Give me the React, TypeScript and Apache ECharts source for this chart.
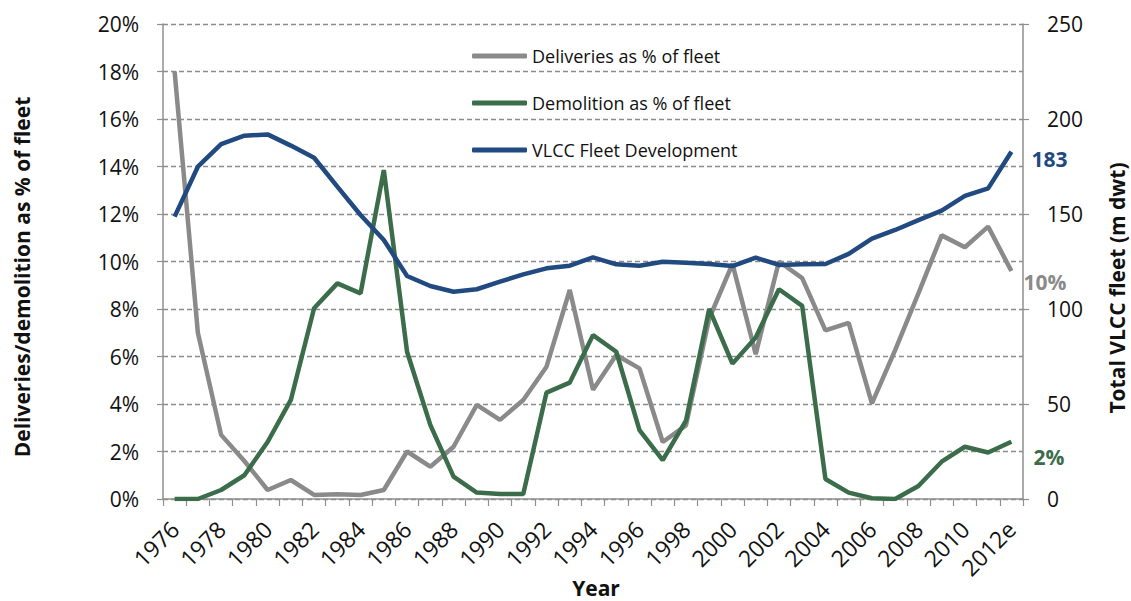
import React, { useEffect, useRef } from "react";
import * as echarts from "echarts";

const years = [
  "1976", "1977", "1978", "1979", "1980", "1981", "1982", "1983", "1984", "1985",
  "1986", "1987", "1988", "1989", "1990", "1991", "1992", "1993", "1994", "1995",
  "1996", "1997", "1998", "1999", "2000", "2001", "2002", "2003", "2004", "2005",
  "2006", "2007", "2008", "2009", "2010", "2011", "2012e",
];

const deliveries = [
  18.0, 7.0, 2.7, 1.6, 0.38, 0.8, 0.17, 0.2, 0.17, 0.38,
  2.0, 1.36, 2.2, 3.96, 3.33, 4.17, 5.57, 8.8, 4.6, 6.06,
  5.5, 2.4, 3.1, 7.6, 9.9, 6.1, 10.0, 9.3, 7.1, 7.42,
  4.03, 6.27, 8.66, 11.1, 10.6, 11.47, 9.6,
];

const demolition = [
  0, 0, 0.38, 1.0, 2.4, 4.17, 8.03, 9.08, 8.66, 13.85,
  6.2, 3.12, 0.94, 0.27, 0.21, 0.21, 4.48, 4.9, 6.9, 6.2,
  2.9, 1.64, 3.3, 8.0, 5.7, 6.8, 8.83, 8.13, 0.84, 0.27,
  0.03, 0, 0.55, 1.57, 2.2, 1.96, 2.41,
];

const fleet = [
  148.6, 174.9, 186.8, 191.2, 191.9, 186.0, 179.6, 164.4, 149.5, 136.3,
  117.4, 112.1, 109.1, 110.4, 114.4, 118.2, 121.4, 122.8, 127.2, 123.5,
  122.8, 124.9, 124.4, 123.7, 122.6, 127.0, 123.2, 123.5, 123.7, 129.0,
  137.0, 141.6, 146.8, 151.8, 159.5, 163.5, 182.8,
];

const seriesNames = [
  "Deliveries as % of fleet",
  "Demolition as % of fleet",
  "VLCC Fleet Development",
];
const endLabels = ["10%", "2%", "183"];

const GRAY = "#8a8a8a";
const GREEN = "#3b6d4a";
const BLUE = "#214a80";
const AXIS = "#8f8f8f";
const FONT = "'Open Sans', 'Noto Sans', sans-serif";

export default function App() {
  const ref = useRef<HTMLDivElement>(null);

  useEffect(() => {
    document.body.style.margin = "0";
    const chart = echarts.init(ref.current!, null, { renderer: "svg" });
    const endLabel = (text: string, color: string, offset: number[]) => ({
      show: true,
      formatter: text,
      color,
      fontWeight: "bold",
      fontSize: 21,
      fontFamily: FONT,
      offset,
    });
    const title = (text: string, x: number, y: number, rotation: number) => ({
      type: "text",
      x,
      y,
      rotation,
      style: {
        text,
        fontSize: 21,
        fontWeight: "bold",
        fontFamily: FONT,
        fill: "#111",
        textAlign: "center",
        textVerticalAlign: "middle",
      },
    });
    chart.setOption({
      animation: false,
      backgroundColor: "#ffffff",
      textStyle: { fontFamily: FONT },
      grid: {
        left: 163,
        right: 108,
        top: 24,
        bottom: 102,
        containLabel: false,
        outerBoundsMode: "none",
      },
      legend: {
        orient: "vertical",
        left: 467,
        top: 42,
        itemWidth: 55,
        itemHeight: 5,
        itemGap: 29,
        icon: "roundRect",
        data: seriesNames,
        textStyle: { fontFamily: FONT, fontSize: 18, color: "#111" },
      },
      xAxis: {
        type: "category",
        data: years,
        boundaryGap: true,
        axisLine: { lineStyle: { color: AXIS, width: 1.5 } },
        axisTick: { show: true, interval: 0, length: 7, lineStyle: { color: AXIS, width: 1.2 } },
        axisLabel: {
          interval: 1,
          rotate: 45,
          fontSize: 23,
          color: "#111",
          fontFamily: FONT,
          margin: 26,
        },
      },
      yAxis: [
        {
          type: "value",
          min: 0,
          max: 20,
          interval: 2,
          axisLine: { show: true, lineStyle: { color: AXIS, width: 1.5 } },
          axisTick: { show: true, length: 6, lineStyle: { color: AXIS, width: 1.2 } },
          axisLabel: {
            formatter: "{value}%",
            fontSize: 21,
            color: "#111",
            fontFamily: FONT,
            margin: 24,
          },
          splitLine: {
            show: true,
            lineStyle: { color: "#8c8c8c", width: 1.4, type: [5, 3] },
          },
        },
        {
          type: "value",
          min: 0,
          max: 250,
          interval: 50,
          position: "right",
          axisLine: { show: true, lineStyle: { color: AXIS, width: 1.5 } },
          axisTick: { show: true, length: 6, lineStyle: { color: AXIS, width: 1.2 } },
          axisLabel: { fontSize: 21, color: "#111", fontFamily: FONT, margin: 24 },
          splitLine: { show: false },
        },
      ],
      graphic: [
        title("Deliveries/demolition as % of fleet", 22, 277, Math.PI / 2),
        title("Total VLCC fleet (m dwt)", 1117, 288, Math.PI / 2),
        title("Year", 596, 588, 0),
      ],
      series: [
        {
          name: seriesNames[0],
          type: "line",
          data: deliveries,
          yAxisIndex: 0,
          symbol: "none",
          lineStyle: { color: GRAY, width: 4.5 },
          itemStyle: { color: GRAY },
          endLabel: endLabel(endLabels[0], GRAY, [4, 11]),
        },
        {
          name: seriesNames[1],
          type: "line",
          data: demolition,
          yAxisIndex: 0,
          symbol: "none",
          lineStyle: { color: GREEN, width: 4.5 },
          itemStyle: { color: GREEN },
          endLabel: endLabel(endLabels[1], GREEN, [14, 15]),
        },
        {
          name: seriesNames[2],
          type: "line",
          data: fleet,
          yAxisIndex: 1,
          symbol: "none",
          lineStyle: { color: BLUE, width: 4.5 },
          itemStyle: { color: BLUE },
          endLabel: endLabel(endLabels[2], BLUE, [12, 7]),
        },
      ],
    });
    return () => chart.dispose();
  }, []);

  return <div ref={ref} style={{ width: 1131, height: 601 }} />;
}
